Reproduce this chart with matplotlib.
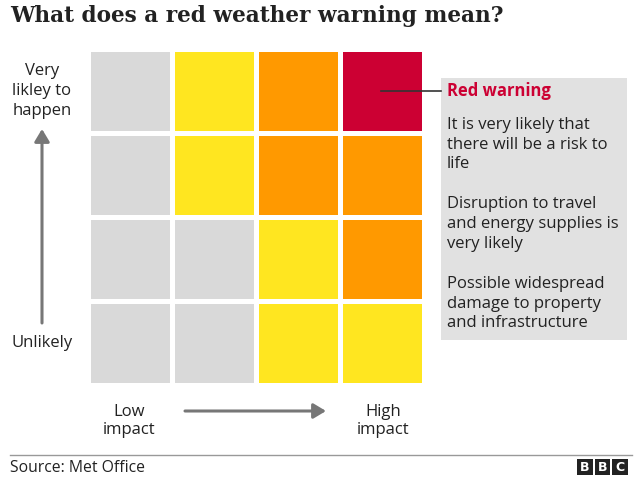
import numpy as np
import matplotlib.pyplot as plt
from matplotlib.colors import ListedColormap
from matplotlib.patches import Rectangle, FancyArrowPatch

# risk matrix: rows from "very likely" (top) to "unlikely" (bottom),
# columns from low to high impact. 0=none, 1=yellow, 2=amber, 3=red
likelihood = ['Very likely', 'Likely', 'Low', 'Unlikely']
impact = ['Very low', 'Low', 'Medium', 'High']
levels = [
    [0, 1, 2, 3],
    [0, 1, 2, 2],
    [0, 0, 1, 2],
    [0, 0, 1, 1],
]
level_colors = ['#d9d9d9', '#ffe620', '#ff9900', '#cc0033']

title = 'What does a red weather warning mean?'
box_heading = 'Red warning'
box_paragraphs = [
    'It is very likely that\nthere will be a risk to\nlife',
    'Disruption to travel\nand energy supplies is\nvery likely',
    'Possible widespread\ndamage to property\nand infrastructure',
]
source = 'Source: Met Office'

W, H = 640, 483
fig = plt.figure(figsize=(W / 100, H / 100), dpi=100)
fig.patch.set_facecolor('white')

sans = ['Open Sans', 'DejaVu Sans']
txt = '#222222'

# grid
pad = 1.5
gx0, gx1, gy0, gy1 = 89 - pad, 422 + pad, 51 - pad, 383 + pad
ax = fig.add_axes([gx0 / W, 1 - gy1 / H, (gx1 - gx0) / W, (gy1 - gy0) / H])
data = np.array(levels)[::-1]
ax.pcolormesh(data, cmap=ListedColormap(level_colors), vmin=-0.5, vmax=3.5,
              edgecolors='white', linewidth=2.2)
ax.set_xlim(0, len(impact))
ax.set_ylim(0, len(likelihood))
ax.axis('off')

# overlay axes in pixel coordinates for labels and furniture
bg = fig.add_axes([0, 0, 1, 1])
bg.set_xlim(0, W)
bg.set_ylim(H, 0)
bg.patch.set_alpha(0)
bg.axis('off')

# title
bg.text(10, 16, title, fontsize=15.6, family=['DejaVu Serif'], color=txt,
        va='center', ha='left', fontweight='bold')

# axis labels and arrows
fs = 12
bg.text(42, 91, 'Very\nlikley to\nhappen', fontsize=fs, family=sans, color=txt,
        ha='center', va='center', linespacing=1.3)
bg.text(42, 343, 'Unlikely', fontsize=fs, family=sans, color=txt,
        ha='center', va='center')
bg.text(129, 421, 'Low\nimpact', fontsize=fs, family=sans, color=txt,
        ha='center', va='center', linespacing=1.25)
bg.text(383, 421, 'High\nimpact', fontsize=fs, family=sans, color=txt,
        ha='center', va='center', linespacing=1.25)
arrow_kw = dict(arrowstyle='-|>,head_length=5,head_width=3', color='#777777',
                lw=2.2, mutation_scale=1.5, shrinkA=0, shrinkB=0)
bg.add_patch(FancyArrowPatch((42, 323), (42, 129), **arrow_kw))
bg.add_patch(FancyArrowPatch((185, 411), (326, 411), **arrow_kw))

# explanatory box with leader line
bg.add_patch(Rectangle((441, 78), 186, 262, facecolor='#e1e1e1', edgecolor='none'))
bg.plot([381, 441], [91, 91], color='#333333', lw=1.2)
bg.text(447, 91, box_heading, fontsize=fs, family=sans, color='#cc0033',
        fontweight='bold', ha='left', va='center')
for i, para in enumerate(box_paragraphs):
    bg.text(447, 117 + i * 79.5, para, fontsize=fs, family=sans, color=txt,
            ha='left', va='top', linespacing=1.3)

# footer
bg.plot([10, 632], [455, 455], color='#999999', lw=1)
bg.text(10, 468, source, fontsize=11.3, family=sans, color=txt, ha='left', va='center')
for i, letter in enumerate('BBC'):
    x0 = 577 + i * 17.5
    bg.add_patch(Rectangle((x0, 459), 15.5, 16, facecolor='#222222', edgecolor='none'))
    bg.text(x0 + 7.75, 467.5, letter, fontsize=9, family=['DejaVu Sans'], color='white',
            fontweight='bold', ha='center', va='center')

fig.savefig('out.png', dpi=100)
